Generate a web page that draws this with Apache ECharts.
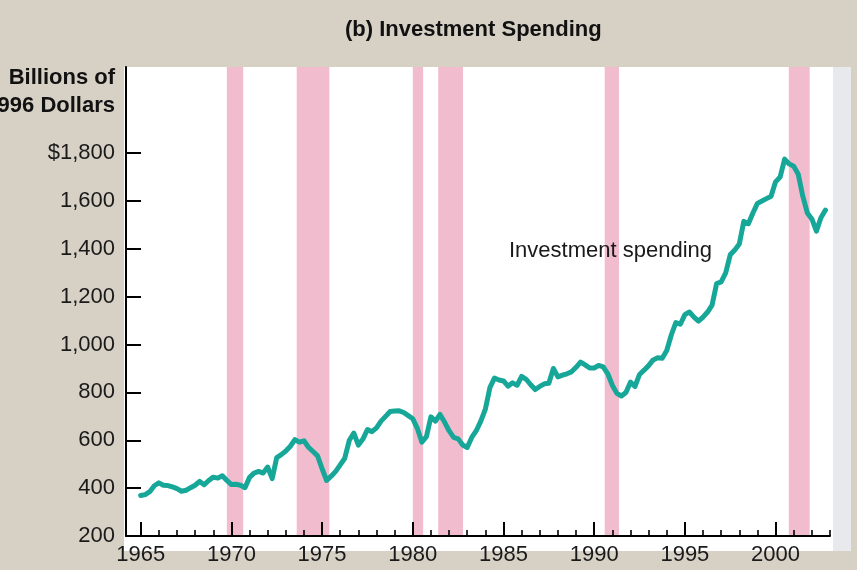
<!DOCTYPE html>
<html><head><meta charset="utf-8">
<script src="https://cdn.jsdelivr.net/npm/echarts@6/dist/echarts.min.js"></script>
<style>html,body{margin:0;padding:0;background:#d6d0c5;}#c{width:857px;height:570px;}</style>
</head><body><div id="c"></div>
<script>
// Quarterly real investment spending, billions of 1996 dollars, starting 1965 Q1
const startYear = 1965;
const investment = [
  369, 373, 385, 410,   // 1965
  422, 412, 411, 405,   // 1966
  398, 387, 391, 402,   // 1967
  412, 428, 414, 432,   // 1968
  446, 442, 452, 432,   // 1969
  415, 416, 412, 402,   // 1970
  445, 463, 470, 463,   // 1971
  488, 440, 528, 540,   // 1972
  555, 575, 603, 592,   // 1973
  598, 571, 553, 535,   // 1974
  481, 432, 450, 470,   // 1975
  497, 525, 600, 630,   // 1976
  580, 605, 645, 636,   // 1977
  652, 680, 700, 720,   // 1978
  722, 723, 716, 703,   // 1979
  690, 650, 592, 615,   // 1980
  698, 680, 708, 676,   // 1981
  640, 612, 606, 580,   // 1982
  570, 612, 640, 680,   // 1983
  730, 820, 860, 852,   // 1984
  848, 826, 840, 830,   // 1985
  867, 855, 832, 812,   // 1986
  825, 836, 838, 900,   // 1987
  865, 872, 878, 886,   // 1988
  905, 927, 915, 902,   // 1989
  902, 913, 907, 878,   // 1990
  830, 796, 785, 800,   // 1991
  843, 825, 875, 893,   // 1992
  912, 936, 945, 943,   // 1993
  975, 1040, 1092, 1085, // 1994
  1125, 1136, 1115, 1098, // 1995
  1115, 1136, 1165, 1255, // 1996
  1262, 1300, 1375, 1395, // 1997
  1420, 1515, 1505, 1550, // 1998
  1590, 1600, 1610, 1620, // 1999
  1680, 1700, 1775, 1755, // 2000
  1745, 1712, 1620, 1550, // 2001
  1525, 1474, 1530, 1562  // 2002
];
const recessions = [
  [1969.75, 1970.65],
  [1973.6, 1975.4],
  [1980.0, 1980.57],
  [1981.4, 1982.77],
  [1990.58, 1991.37],
  [2000.73, 2001.88]
];
const yTickValues = [200, 400, 600, 800, 1000, 1200, 1400, 1600, 1800];
const xLabelYears = [1965, 1970, 1975, 1980, 1985, 1990, 1995, 2000];
const xMinorYears = [1965,1966,1967,1968,1969,1970,1971,1972,1973,1974,1975,1976,1977,1978,1979,1980,1981,1982,1983,1984,1985,1986,1987,1988,1989,1990,1991,1992,1993,1994,1995,1996,1997,1998,1999,2000,2001,2002,2003];
const titleText = '(b) Investment Spending';
const yNameLines = ['Billions of', '1996 Dollars'];
const seriesLabel = 'Investment spending';

const FONT = '"Liberation Sans", Arial, sans-serif';
const lineData = investment.map((v, i) => [startYear + i / 4, v]);

const chart = echarts.init(document.getElementById('c'), null, {renderer: 'canvas'});
chart.setOption({
  backgroundColor: '#d6d0c5',
  animation: false,
  title: {
    text: titleText, left: 345, top: 19, padding: 0,
    textStyle: {fontFamily: FONT, fontSize: 22, fontWeight: 'bold', color: '#111'}
  },
  graphic: [
    {type: 'rect', z: -10, silent: true, shape: {x: 124, y: 67, width: 709, height: 484}, style: {fill: '#ffffff'}},
    {type: 'rect', z: -10, silent: true, shape: {x: 833, y: 67, width: 18, height: 484}, style: {fill: '#e7e9ed'}},
    {type: 'text', z: 10, silent: true, x: 115, y: 78, style: {text: yNameLines[0], font: 'bold 22px ' + FONT, fill: '#111', align: 'right', verticalAlign: 'middle'}},
    {type: 'text', z: 10, silent: true, x: 115, y: 106, style: {text: yNameLines[1], font: 'bold 22px ' + FONT, fill: '#111', align: 'right', verticalAlign: 'middle'}},
    {type: 'text', z: 10, silent: true, x: 509, y: 251, style: {text: seriesLabel, font: '22px ' + FONT, fill: '#1a1a1a', align: 'left', verticalAlign: 'middle'}}
  ],
  grid: {left: 126, right: 27, top: 67, bottom: 34, containLabel: false},
  xAxis: [
    {
      type: 'value', min: 1964.19, max: 2003, position: 'bottom', z: 5,
      axisLine: {show: true, onZero: false, lineStyle: {color: '#000', width: 2}},
      axisTick: {show: true, inside: true, length: 14, customValues: xLabelYears, lineStyle: {color: '#000', width: 2}},
      axisLabel: {show: true, customValues: xLabelYears, margin: 8, fontFamily: FONT, fontSize: 22, color: '#1a1a1a', formatter: v => String(v)},
      splitLine: {show: false}
    },
    {
      type: 'value', min: 1964.19, max: 2003, position: 'bottom', z: 5,
      axisLine: {show: false, onZero: false},
      axisTick: {show: true, inside: true, length: 6, customValues: xMinorYears, lineStyle: {color: '#000', width: 1.6}},
      axisLabel: {show: false},
      splitLine: {show: false}
    }
  ],
  yAxis: {
    type: 'value', min: 200, max: 2160, z: 5,
    axisLine: {show: true, onZero: false, lineStyle: {color: '#000', width: 2}},
    axisTick: {show: true, inside: true, length: 15, customValues: yTickValues, lineStyle: {color: '#000', width: 2}},
    axisLabel: {
      show: true, customValues: yTickValues, margin: 11, fontFamily: FONT, fontSize: 22, color: '#1a1a1a',
      formatter: v => (v === 1800 ? '$' : '') + v.toLocaleString('en-US')
    },
    splitLine: {show: false}
  },
  series: [{
    type: 'line', name: seriesLabel, data: lineData, xAxisIndex: 0, yAxisIndex: 0,
    symbol: 'none', smooth: false, z: 3,
    lineStyle: {color: '#16a799', width: 5, join: 'round', cap: 'round'},
    markArea: {
      silent: true,
      itemStyle: {color: '#f2bccf', opacity: 1},
      data: recessions.map(r => [{xAxis: r[0]}, {xAxis: r[1]}])
    }
  }]
});
</script>
</body></html>
